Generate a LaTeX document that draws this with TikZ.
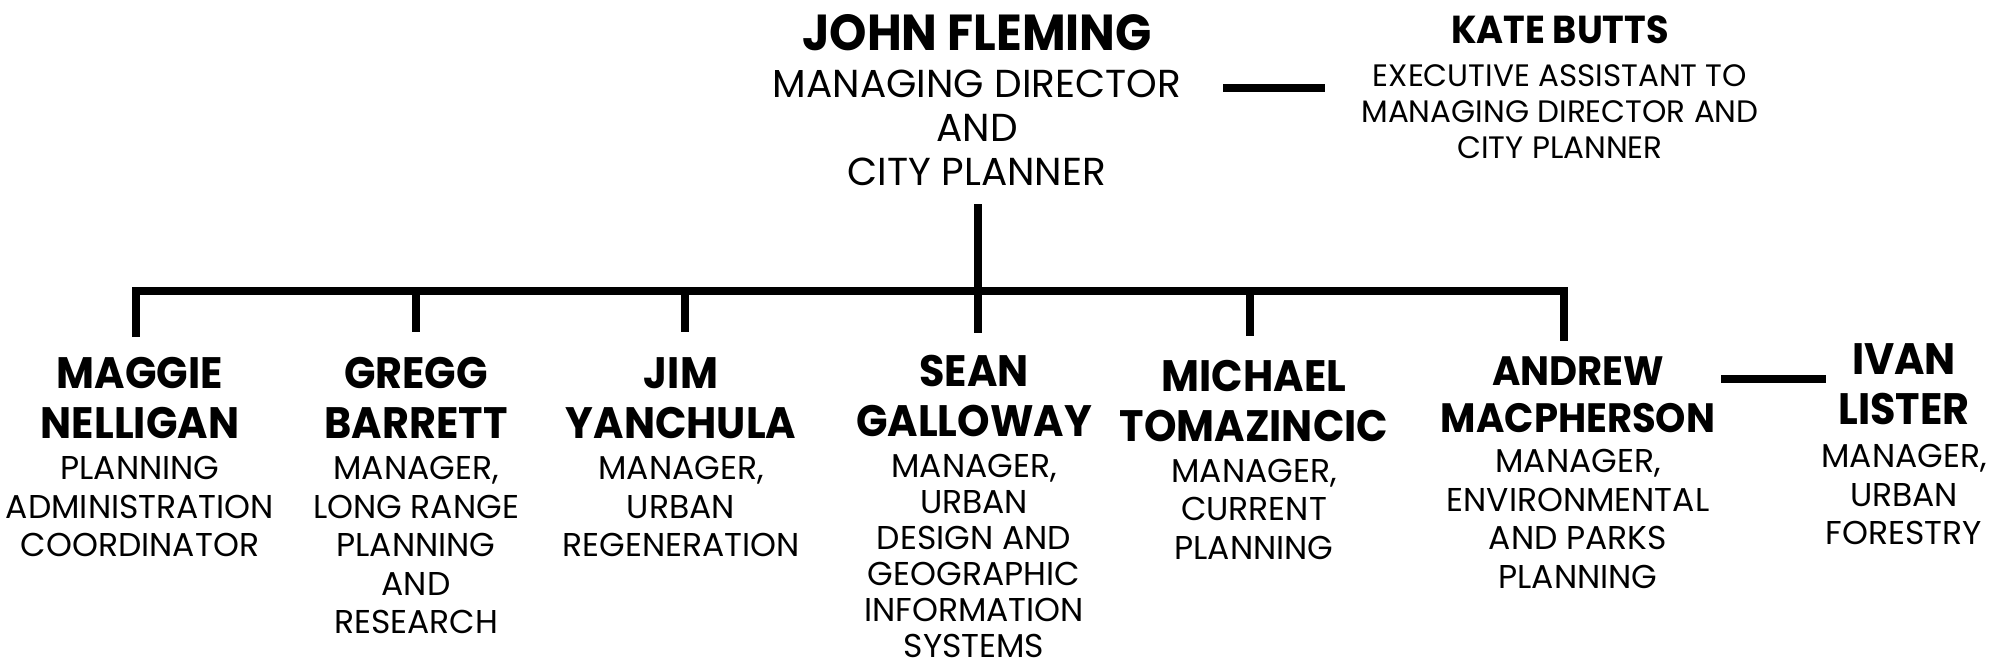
\documentclass[tikz,border=0pt]{standalone}
\usepackage{fontspec}
\setmainfont{Poppins}
\newfontfamily\namefont{Poppins}[FakeStretch=0.94]
\usepackage{tikz}
\usetikzlibrary{positioning}

\begin{document}
\begin{tikzpicture}[x=0.5pt, y=-0.5pt,
	person/.style={align=center, inner sep=0pt, anchor=north, font=\fontsize{22}{25}\namefont\bfseries},
	jobtitle/.style={align=center, inner sep=0pt, font=\fontsize{16.5}{19.25}\selectfont},
	orgline/.style={line width=4pt}]
	\useasboundingbox (0,0) rectangle (1994,666);
	\node[person, font=\fontsize{25.3}{28}\namefont\bfseries] (john) at (977,14) {JOHN FLEMING};
	\node[jobtitle, below=9.3pt of john, font=\fontsize{19.5}{22}\selectfont] (johnjob) {MANAGING DIRECTOR\\AND\\CITY PLANNER};
	\node[person, font=\fontsize{19.5}{22}\namefont\bfseries] (kate) at (1560,15) {KATE BUTTS};
	\node[jobtitle, below=10.4pt of kate, font=\fontsize{15.5}{18}\selectfont] (katejob) {EXECUTIVE ASSISTANT TO\\MANAGING DIRECTOR AND\\CITY PLANNER};
	\node[person] (maggie) at (140,357) {MAGGIE\\NELLIGAN};
	\node[jobtitle, below=8.5pt of maggie] (maggiejob) {PLANNING\\ADMINISTRATION\\COORDINATOR};
	\node[person] (gregg) at (416,357) {GREGG\\BARRETT};
	\node[jobtitle, below=8.5pt of gregg] (greggjob) {MANAGER,\\LONG RANGE\\PLANNING\\AND\\RESEARCH};
	\node[person] (jim) at (681,357) {JIM\\YANCHULA};
	\node[jobtitle, below=8.5pt of jim] (jimjob) {MANAGER,\\URBAN\\REGENERATION};
	\node[person] (sean) at (974,355) {SEAN\\GALLOWAY};
	\node[jobtitle, below=8pt of sean, font=\fontsize{16.5}{18}\selectfont] (seanjob) {MANAGER,\\URBAN\\DESIGN AND\\GEOGRAPHIC\\INFORMATION\\SYSTEMS};
	\node[person] (michael) at (1254,360) {MICHAEL\\TOMAZINCIC};
	\node[jobtitle, below=8pt of michael] (michaeljob) {MANAGER,\\CURRENT\\PLANNING};
	\node[person, font=\fontsize{20.5}{23.5}\namefont\bfseries] (andrew) at (1578,356) {ANDREW\\MACPHERSON};
	\node[jobtitle, below=8pt of andrew] (andrewjob) {MANAGER,\\ENVIRONMENTAL\\AND PARKS\\PLANNING};
	\node[person] (ivan) at (1904,343) {IVAN\\LISTER};
	\node[jobtitle, below=9.5pt of ivan] (ivanjob) {MANAGER,\\URBAN\\FORESTRY};
	\coordinate (b1) at (136,291);
	\coordinate (b2) at (416,291);
	\coordinate (b3) at (685,291);
	\coordinate (b4) at (978,291);
	\coordinate (b5) at (1250,291);
	\coordinate (b6) at (1564,291);
	\draw[orgline, shorten <=10pt, shorten >=7.5pt] (b1 |- maggie.north) -- (b1) -- (b6) -- (b6 |- andrew.north);
	\foreach \n/\b/\s in {gregg/b2/12.5pt, jim/b3/12.5pt, michael/b5/12pt}
		\draw[orgline, shorten >=\s] (\b) -- (\b |- \n.north);
	\draw[orgline, shorten <=9pt, shorten >=11pt] (b4 |- johnjob.south) -- (b4 |- sean.north);
	\coordinate (k1) at (1223,88);
	\coordinate (k2) at (1325,88);
	\draw[orgline] (k1) -- (k2);
	\coordinate (i1) at (1721,379);
	\coordinate (i2) at (1826,379);
	\draw[orgline] (i1) -- (i2);
\end{tikzpicture}
\end{document}
